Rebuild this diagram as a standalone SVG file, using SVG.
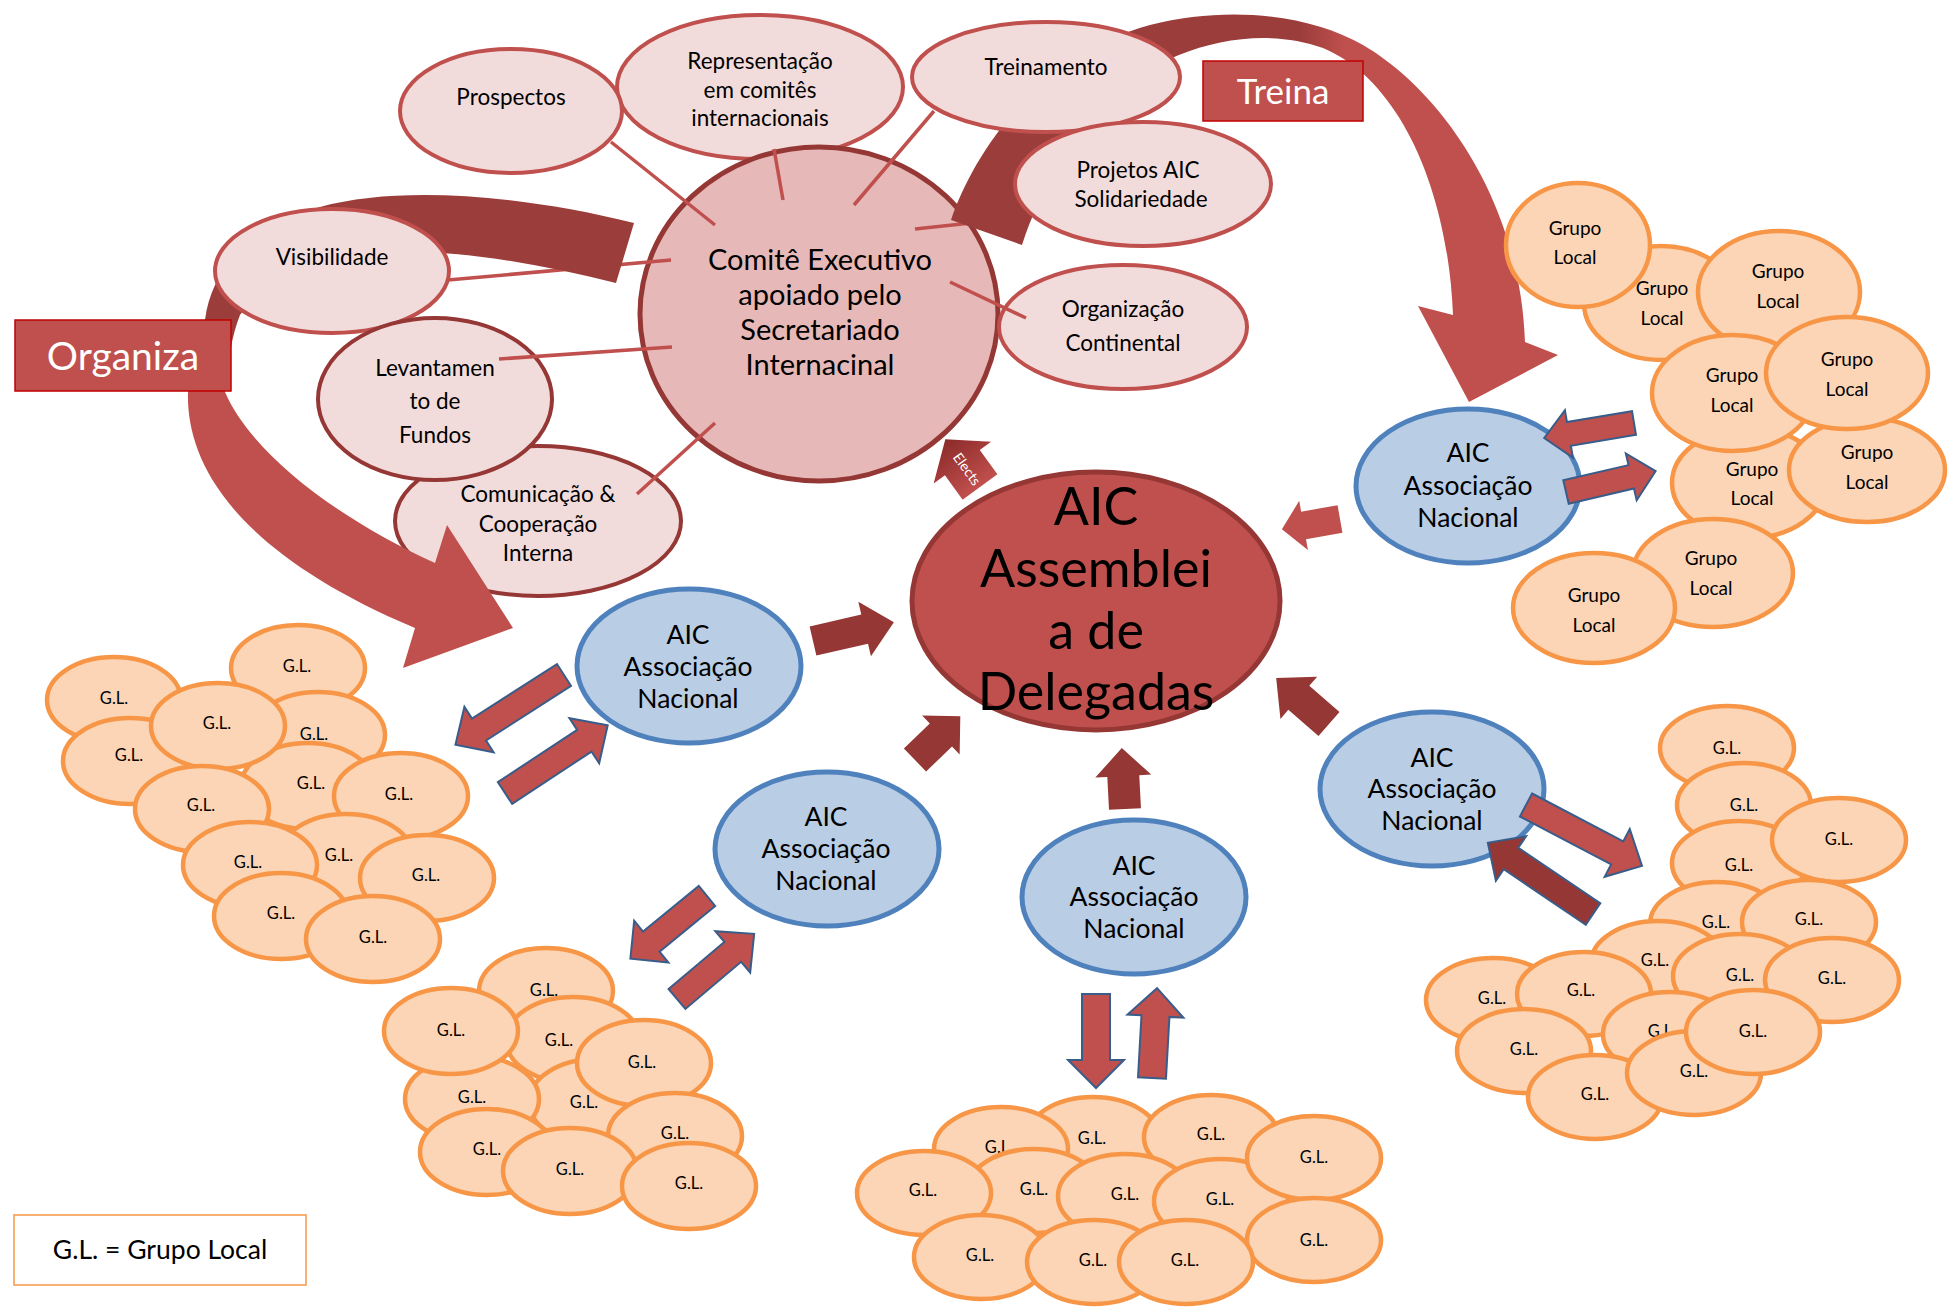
<svg xmlns="http://www.w3.org/2000/svg" width="1948" height="1308" viewBox="0 0 1948 1308">
<defs>
<style>
.pk{fill:#f2dcdb;stroke:#c0504d;stroke-width:4}
.pkd{fill:#f2dcdb;stroke:#953735;stroke-width:4}
.ce{fill:#e6b9b8;stroke:#953735;stroke-width:5}
.as{fill:#c0504d;stroke:#953735;stroke-width:5}
.an{fill:#b9cde5;stroke:#4f81bd;stroke-width:5}
.gle{fill:#fbd5b5;stroke:#f79646;stroke-width:4.5}
.lbl{fill:#c0504d;stroke:#c00000;stroke-width:1.5}
.t{font-family:Lato,'Liberation Sans',sans-serif;fill:#000;text-anchor:middle}
.f21{font-size:22.5px}
.f27{font-size:29px}
.f50{font-size:52px}
.f25{font-size:26.5px}
.f18{font-size:19px}
.f16{font-size:16.5px}
.w{fill:#fff}
.ln{stroke:#c0504d;stroke-width:3.5;fill:none}
.ad{fill:#953735}
.al{fill:#c0504d}
.ab{fill:#c0504d;stroke:#385d8a;stroke-width:2}
.abd{fill:#953735;stroke:#385d8a;stroke-width:2}
</style>
<linearGradient id="gOrg" gradientUnits="userSpaceOnUse" x1="0" y1="330" x2="0" y2="372">
<stop offset="0" stop-color="#9b3d3b"/><stop offset="1" stop-color="#c0504d"/>
</linearGradient>
<linearGradient id="gTr" gradientUnits="userSpaceOnUse" x1="1300" y1="0" x2="1345" y2="0">
<stop offset="0" stop-color="#9b3d3b"/><stop offset="1" stop-color="#c0504d"/>
</linearGradient>
<linearGradient id="gEl" x1="1" y1="0" x2="0" y2="0">
<stop offset="0" stop-color="#8b2a2a"/><stop offset="1" stop-color="#c0504d"/>
</linearGradient>
</defs>

<!-- back nodes -->
<g id="n-representacao"><ellipse class="pk" cx="760" cy="87" rx="143" ry="72"/>
<text class="t f21" x="760" y="69">Representação</text><text class="t f21" x="760" y="98">em comitês</text><text class="t f21" x="760" y="126">internacionais</text></g>
<g id="n-comite"><ellipse class="ce" cx="819" cy="314" rx="179" ry="167"/>
<text class="t f27" x="820" y="270">Comitê Executivo</text><text class="t f27" x="820" y="305">apoiado pelo</text><text class="t f27" x="820" y="340">Secretariado</text><text class="t f27" x="820" y="375">Internacinal</text></g>
<g id="n-prospectos"><ellipse class="pk" cx="511" cy="111" rx="111" ry="62"/>
<text class="t f21" x="511" y="105">Prospectos</text></g>
<g id="n-comunicacao"><ellipse class="pkd" cx="538" cy="521" rx="143" ry="75"/>
<text class="t f21" x="538" y="502">Comunicação &amp;</text><text class="t f21" x="538" y="532">Cooperação</text><text class="t f21" x="538" y="561">Interna</text></g>
<g id="n-organizacao"><ellipse class="pk" cx="1123" cy="327" rx="124" ry="62"/>
<text class="t f21" x="1123" y="317">Organização</text><text class="t f21" x="1123" y="351">Continental</text></g>

<g id="connectors-back">
<line class="ln" x1="448" y1="280" x2="671" y2="260"/>
<line class="ln" x1="915" y1="229" x2="990" y2="221"/>
<path d="M634,223 C520,195 400,185 320,207 C255,225 212,265 205,320 C198,345 190,365 188,392 C186,460 230,550 415,628 L403,668 L513,628 L447,525 L435,563 C330,515 250,450 225,392 C228,360 232,335 240,315 C260,285 300,265 360,255 C440,245 530,262 616,283 Z" fill="url(#gOrg)"/>
<path d="M951,220 C975,150 1040,55 1150,25 C1230,5 1310,15 1363,45 C1440,90 1520,200 1525,342 L1558,355 L1469,402 L1418,306 L1453,315 C1448,190 1400,80 1323,48 C1250,22 1160,50 1110,100 C1070,140 1040,190 1022,245 Z" fill="url(#gTr)"/>
</g>

<!-- front pink nodes -->
<g id="n-visibilidade"><ellipse class="pk" cx="332" cy="271" rx="117" ry="62"/>
<text class="t f21" x="332" y="265">Visibilidade</text></g>
<g id="n-levantamento"><ellipse class="pkd" cx="435" cy="399" rx="117" ry="81"/>
<text class="t f21" x="435" y="376">Levantamen</text><text class="t f21" x="435" y="409">to de</text><text class="t f21" x="435" y="443">Fundos</text></g>
<g id="n-treinamento"><ellipse class="pk" cx="1046" cy="77" rx="134" ry="55"/>
<text class="t f21" x="1046" y="75">Treinamento</text></g>
<g id="n-projetos"><ellipse class="pk" cx="1143" cy="184" rx="128" ry="62"/>
<text class="t f21" x="1138" y="178">Projetos AIC</text><text class="t f21" x="1141" y="207">Solidariedade</text></g>
<g id="l-organiza"><rect class="lbl" x="15" y="320" width="216" height="71"/>
<text class="t w" style="font-size:39px" x="123" y="370">Organiza</text></g>
<g id="l-treina"><rect class="lbl" x="1203" y="61" width="160" height="60"/>
<text class="t w" style="font-size:35px" x="1283" y="104">Treina</text></g>

<g id="connectors-lines">
<line class="ln" x1="611" y1="142" x2="715" y2="225"/>
<line class="ln" x1="774" y1="149" x2="783" y2="200"/>
<line class="ln" x1="934" y1="111" x2="854" y2="205"/>
<line class="ln" x1="950" y1="282" x2="1026" y2="318"/>
<line class="ln" x1="499" y1="359" x2="672" y2="347"/>
<line class="ln" x1="637" y1="494" x2="715" y2="423"/>
</g>

<!-- assembly -->
<g id="n-assembleia"><ellipse class="as" cx="1096" cy="601" rx="184" ry="129"/>
<text class="t f50" x="1096" y="525">AIC</text><text class="t f50" x="1096" y="587">Assemblei</text><text class="t f50" x="1096" y="649">a de</text><text class="t f50" x="1096" y="710">Delegadas</text></g>

<!-- national associations -->
<g id="n-aic-a"><ellipse class="an" cx="689" cy="666" rx="112" ry="77"/>
<text class="t f25" x="688" y="644">AIC</text><text class="t f25" x="688" y="676">Associação</text><text class="t f25" x="688" y="708">Nacional</text></g>
<g id="n-aic-b"><ellipse class="an" cx="827" cy="849" rx="112" ry="77"/>
<text class="t f25" x="826" y="826">AIC</text><text class="t f25" x="826" y="858">Associação</text><text class="t f25" x="826" y="890">Nacional</text></g>
<g id="n-aic-c"><ellipse class="an" cx="1134" cy="897" rx="112" ry="77"/>
<text class="t f25" x="1134" y="875">AIC</text><text class="t f25" x="1134" y="906">Associação</text><text class="t f25" x="1134" y="938">Nacional</text></g>
<g id="n-aic-d"><ellipse class="an" cx="1432" cy="789" rx="112" ry="77"/>
<text class="t f25" x="1432" y="767">AIC</text><text class="t f25" x="1432" y="798">Associação</text><text class="t f25" x="1432" y="830">Nacional</text></g>
<g id="n-aic-e"><ellipse class="an" cx="1468" cy="486" rx="112" ry="77"/>
<text class="t f25" x="1468" y="462">AIC</text><text class="t f25" x="1468" y="495">Associação</text><text class="t f25" x="1468" y="527">Nacional</text></g>

<!-- top-right Grupo Local -->
<g id="gr-b"><ellipse class="gle" cx="1661" cy="303" rx="77" ry="57"/><text class="t f18" x="1662" y="295">Grupo</text><text class="t f18" x="1662" y="325">Local</text></g>
<g id="gr-a"><ellipse class="gle" cx="1578" cy="245" rx="72" ry="62"/><text class="t f18" x="1575" y="235">Grupo</text><text class="t f18" x="1575" y="264">Local</text></g>
<g id="gr-c"><ellipse class="gle" cx="1779" cy="292" rx="81" ry="61"/><text class="t f18" x="1778" y="278">Grupo</text><text class="t f18" x="1778" y="308">Local</text></g>
<g id="gr-f"><ellipse class="gle" cx="1749" cy="483" rx="77" ry="55"/><text class="t f18" x="1752" y="476">Grupo</text><text class="t f18" x="1752" y="505">Local</text></g>
<g id="gr-h"><ellipse class="gle" cx="1713" cy="573" rx="80" ry="54"/><text class="t f18" x="1711" y="565">Grupo</text><text class="t f18" x="1711" y="595">Local</text></g>
<g id="gr-i"><ellipse class="gle" cx="1594" cy="608" rx="81" ry="55"/><text class="t f18" x="1594" y="602">Grupo</text><text class="t f18" x="1594" y="632">Local</text></g>
<g id="gr-d"><ellipse class="gle" cx="1733" cy="393" rx="81" ry="58"/><text class="t f18" x="1732" y="382">Grupo</text><text class="t f18" x="1732" y="412">Local</text></g>
<g id="gr-g"><ellipse class="gle" cx="1867" cy="470" rx="78" ry="52"/><text class="t f18" x="1867" y="459">Grupo</text><text class="t f18" x="1867" y="489">Local</text></g>
<g id="gr-e"><ellipse class="gle" cx="1847" cy="373" rx="81" ry="56"/><text class="t f18" x="1847" y="366">Grupo</text><text class="t f18" x="1847" y="396">Local</text></g>

<!-- left G.L. -->
<g id="gl-l1"><ellipse class="gle" cx="298" cy="668" rx="67" ry="43"/><text class="t f16" x="297" y="672">G.L.</text></g>
<g id="gl-l2"><ellipse class="gle" cx="114" cy="700" rx="67" ry="43"/><text class="t f16" x="114" y="704">G.L.</text></g>
<g id="gl-l3"><ellipse class="gle" cx="318" cy="735" rx="67" ry="43"/><text class="t f16" x="314" y="740">G.L.</text></g>
<g id="gl-l5"><ellipse class="gle" cx="130" cy="761" rx="67" ry="43"/><text class="t f16" x="129" y="761">G.L.</text></g>
<g id="gl-l6"><ellipse class="gle" cx="308" cy="786" rx="67" ry="43"/><text class="t f16" x="311" y="789">G.L.</text></g>
<g id="gl-l4"><ellipse class="gle" cx="218" cy="726" rx="67" ry="43"/><text class="t f16" x="217" y="729">G.L.</text></g>
<g id="gl-l7"><ellipse class="gle" cx="401" cy="796" rx="67" ry="43"/><text class="t f16" x="399" y="800">G.L.</text></g>
<g id="gl-l8"><ellipse class="gle" cx="202" cy="809" rx="67" ry="43"/><text class="t f16" x="201" y="811">G.L.</text></g>
<g id="gl-l9"><ellipse class="gle" cx="346" cy="857" rx="67" ry="43"/><text class="t f16" x="339" y="861">G.L.</text></g>
<g id="gl-l10"><ellipse class="gle" cx="250" cy="865" rx="67" ry="43"/><text class="t f16" x="248" y="868">G.L.</text></g>
<g id="gl-l11"><ellipse class="gle" cx="427" cy="878" rx="67" ry="43"/><text class="t f16" x="426" y="881">G.L.</text></g>
<g id="gl-l12"><ellipse class="gle" cx="281" cy="916" rx="67" ry="43"/><text class="t f16" x="281" y="919">G.L.</text></g>
<g id="gl-l13"><ellipse class="gle" cx="373" cy="939" rx="67" ry="43"/><text class="t f16" x="373" y="943">G.L.</text></g>

<!-- bottom-left G.L. -->
<g id="gl-b1"><ellipse class="gle" cx="546" cy="991" rx="67" ry="43"/><text class="t f16" x="544" y="996">G.L.</text></g>
<g id="gl-b3"><ellipse class="gle" cx="573" cy="1040" rx="67" ry="43"/><text class="t f16" x="559" y="1046">G.L.</text></g>
<g id="gl-b6"><ellipse class="gle" cx="596" cy="1102" rx="67" ry="43"/><text class="t f16" x="584" y="1108">G.L.</text></g>
<g id="gl-b5"><ellipse class="gle" cx="472" cy="1099" rx="67" ry="43"/><text class="t f16" x="472" y="1103">G.L.</text></g>
<g id="gl-b2"><ellipse class="gle" cx="451" cy="1031" rx="67" ry="43"/><text class="t f16" x="451" y="1036">G.L.</text></g>
<g id="gl-b4"><ellipse class="gle" cx="644" cy="1063" rx="67" ry="43"/><text class="t f16" x="642" y="1068">G.L.</text></g>
<g id="gl-b7"><ellipse class="gle" cx="675" cy="1136" rx="67" ry="43"/><text class="t f16" x="675" y="1139">G.L.</text></g>
<g id="gl-b8"><ellipse class="gle" cx="487" cy="1152" rx="67" ry="43"/><text class="t f16" x="487" y="1155">G.L.</text></g>
<g id="gl-b9"><ellipse class="gle" cx="570" cy="1171" rx="67" ry="43"/><text class="t f16" x="570" y="1175">G.L.</text></g>
<g id="gl-b10"><ellipse class="gle" cx="689" cy="1186" rx="67" ry="43"/><text class="t f16" x="689" y="1189">G.L.</text></g>

<!-- bottom-center G.L. -->
<g id="gl-c2"><ellipse class="gle" cx="1093" cy="1139" rx="67" ry="42"/><text class="t f16" x="1092" y="1144">G.L.</text></g>
<g id="gl-c1"><ellipse class="gle" cx="1001" cy="1149" rx="67" ry="42"/><text class="t f16" x="999" y="1153">G.L.</text></g>
<g id="gl-c3"><ellipse class="gle" cx="1211" cy="1137" rx="67" ry="42"/><text class="t f16" x="1211" y="1140">G.L.</text></g>
<g id="gl-c6"><ellipse class="gle" cx="1034" cy="1191" rx="67" ry="42"/><text class="t f16" x="1034" y="1195">G.L.</text></g>
<g id="gl-c7"><ellipse class="gle" cx="1125" cy="1196" rx="67" ry="42"/><text class="t f16" x="1125" y="1200">G.L.</text></g>
<g id="gl-c8"><ellipse class="gle" cx="1221" cy="1201" rx="67" ry="42"/><text class="t f16" x="1220" y="1205">G.L.</text></g>
<g id="gl-c4"><ellipse class="gle" cx="1314" cy="1158" rx="67" ry="42"/><text class="t f16" x="1314" y="1163">G.L.</text></g>
<g id="gl-c5"><ellipse class="gle" cx="924" cy="1193" rx="67" ry="42"/><text class="t f16" x="923" y="1196">G.L.</text></g>
<g id="gl-c9"><ellipse class="gle" cx="1314" cy="1240" rx="67" ry="42"/><text class="t f16" x="1314" y="1246">G.L.</text></g>
<g id="gl-c10"><ellipse class="gle" cx="981" cy="1257" rx="67" ry="42"/><text class="t f16" x="980" y="1261">G.L.</text></g>
<g id="gl-c11"><ellipse class="gle" cx="1094" cy="1262" rx="67" ry="42"/><text class="t f16" x="1093" y="1266">G.L.</text></g>
<g id="gl-c12"><ellipse class="gle" cx="1186" cy="1262" rx="67" ry="42"/><text class="t f16" x="1185" y="1266">G.L.</text></g>

<!-- right G.L. -->
<g id="gl-r1"><ellipse class="gle" cx="1727" cy="748" rx="67" ry="42"/><text class="t f16" x="1727" y="754">G.L.</text></g>
<g id="gl-r2"><ellipse class="gle" cx="1744" cy="805" rx="67" ry="42"/><text class="t f16" x="1744" y="811">G.L.</text></g>
<g id="gl-r4"><ellipse class="gle" cx="1739" cy="863" rx="67" ry="42"/><text class="t f16" x="1739" y="871">G.L.</text></g>
<g id="gl-r3"><ellipse class="gle" cx="1839" cy="840" rx="67" ry="42"/><text class="t f16" x="1839" y="845">G.L.</text></g>
<g id="gl-r5"><ellipse class="gle" cx="1717" cy="924" rx="67" ry="42"/><text class="t f16" x="1716" y="928">G.L.</text></g>
<g id="gl-r7"><ellipse class="gle" cx="1658" cy="963" rx="67" ry="42"/><text class="t f16" x="1655" y="966">G.L.</text></g>
<g id="gl-r6"><ellipse class="gle" cx="1809" cy="922" rx="67" ry="42"/><text class="t f16" x="1809" y="925">G.L.</text></g>
<g id="gl-r8"><ellipse class="gle" cx="1740" cy="976" rx="67" ry="42"/><text class="t f16" x="1740" y="981">G.L.</text></g>
<g id="gl-r9"><ellipse class="gle" cx="1832" cy="980" rx="67" ry="42"/><text class="t f16" x="1832" y="984">G.L.</text></g>
<g id="gl-r10"><ellipse class="gle" cx="1493" cy="1000" rx="67" ry="42"/><text class="t f16" x="1492" y="1004">G.L.</text></g>
<g id="gl-r11"><ellipse class="gle" cx="1584" cy="994" rx="67" ry="42"/><text class="t f16" x="1581" y="996">G.L.</text></g>
<g id="gl-r12"><ellipse class="gle" cx="1670" cy="1034" rx="67" ry="42"/><text class="t f16" x="1662" y="1037">G.L.</text></g>
<g id="gl-r14"><ellipse class="gle" cx="1524" cy="1051" rx="67" ry="42"/><text class="t f16" x="1524" y="1055">G.L.</text></g>
<g id="gl-r16"><ellipse class="gle" cx="1595" cy="1097" rx="67" ry="42"/><text class="t f16" x="1595" y="1100">G.L.</text></g>
<g id="gl-r15"><ellipse class="gle" cx="1694" cy="1073" rx="67" ry="42"/><text class="t f16" x="1694" y="1077">G.L.</text></g>
<g id="gl-r13"><ellipse class="gle" cx="1753" cy="1032" rx="67" ry="42"/><text class="t f16" x="1753" y="1037">G.L.</text></g>

<!-- legend -->
<g id="legend"><rect x="14" y="1215" width="292" height="70" fill="#fff" stroke="#f79646" stroke-width="1.5"/>
<text class="t" style="font-size:26.5px" x="160" y="1259">G.L. = Grupo Local</text></g>

<g id="connectors-arrows">
<!-- to assembly -->
<path class="ad" transform="translate(813,641) rotate(-13)" d="M0,-15 L53,-15 L53,-28 L83,0 L53,28 L53,15 L0,15 Z"/>
<path class="ad" transform="translate(915,760) rotate(-44)" d="M0,-16 L36,-16 L36,-27 L63,0 L36,27 L36,16 L0,16 Z"/>
<path class="ad" transform="translate(1125,809) rotate(-93)" d="M0,-16 L33,-16 L33,-28 L61,0 L33,28 L33,16 L0,16 Z"/>
<path class="ad" transform="translate(1329,724) rotate(-139)" d="M0,-16 L40,-16 L40,-28 L70,0 L40,28 L40,16 L0,16 Z"/>
<path class="al" transform="translate(1340,519) rotate(170)" d="M0,-14 L37,-14 L37,-25 L59,0 L37,25 L37,14 L0,14 Z"/>
<!-- elects -->
<g id="c-elects" transform="translate(980,487) rotate(-126)">
<path d="M0,-21.5 L30,-21.5 L30,-35.5 L59,0 L30,35.5 L30,21.5 L0,21.5 Z" fill="url(#gEl)"/>
</g>
<text class="t w" style="font-size:14px" transform="translate(967,469) rotate(54)" x="0" y="5">Elects</text>
<!-- A -->
<path class="ab" transform="translate(564,675) rotate(147.3)" d="M0,-13 L101,-13 L101,-27 L129,0 L101,27 L101,13 L0,13 Z"/>
<path class="ab" transform="translate(505,793) rotate(-33.4)" d="M0,-13 L95,-13 L95,-27 L123,0 L95,27 L95,13 L0,13 Z"/>
<!-- B -->
<path class="ab" transform="translate(707,896) rotate(140.7)" d="M0,-13 L72,-13 L72,-27 L99,0 L72,27 L72,13 L0,13 Z"/>
<path class="ab" transform="translate(677,999) rotate(-40.2)" d="M0,-13 L73,-13 L73,-27 L101,0 L73,27 L73,13 L0,13 Z"/>
<!-- C -->
<path class="ab" transform="translate(1096,994) rotate(90)" d="M0,-14 L66,-14 L66,-28 L94,0 L66,28 L66,14 L0,14 Z"/>
<path class="ab" transform="translate(1152,1078) rotate(-86.8)" d="M0,-14 L62,-14 L62,-28 L90,0 L62,28 L62,14 L0,14 Z"/>
<!-- D -->
<path class="ab" transform="translate(1526,805) rotate(27.7)" d="M0,-13 L103,-13 L103,-27 L131,0 L103,27 L103,13 L0,13 Z"/>
<path class="abd" transform="translate(1593,914) rotate(-145.9)" d="M0,-13 L99,-13 L99,-27 L127,0 L99,27 L99,13 L0,13 Z"/>
<!-- E -->
<path class="ab" transform="translate(1634,423) rotate(170.5)" d="M0,-12 L66,-12 L66,-24 L91,0 L66,24 L66,12 L0,12 Z"/>
<path class="ab" transform="translate(1566,492) rotate(-13.1)" d="M0,-12 L67,-12 L67,-24 L92,0 L67,24 L67,12 L0,12 Z"/>
</g>
</svg>
